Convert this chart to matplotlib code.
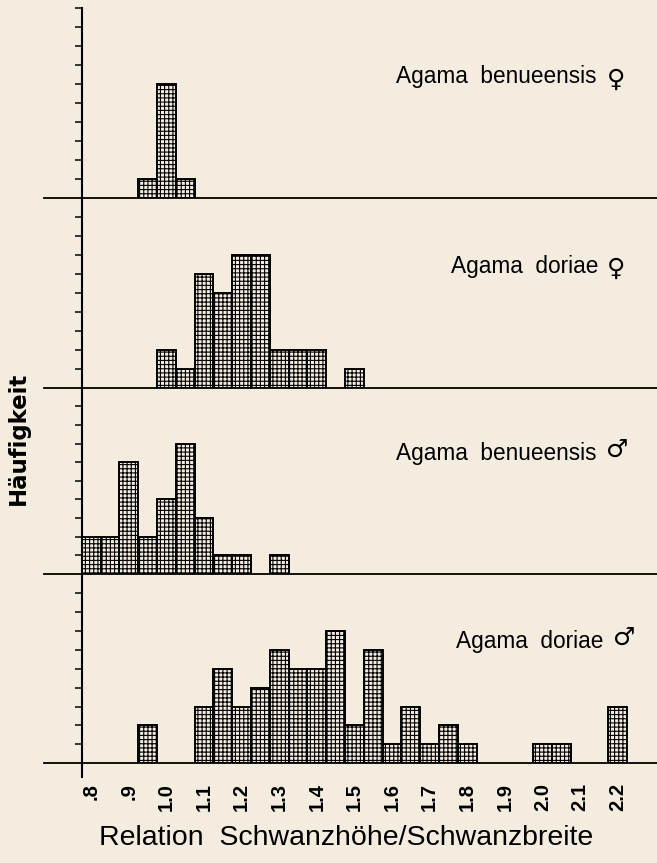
import matplotlib
matplotlib.use("Agg")
import matplotlib.pyplot as plt
from matplotlib.lines import Line2D

# ---- data (bin centres, bin width 0.05) ----
bin_width = 0.05

ben_f_x = [0.95, 1.00, 1.05]
ben_f_n = [1, 6, 1]

dor_f_x = [1.00, 1.05, 1.10, 1.15, 1.20, 1.25, 1.30, 1.35, 1.40, 1.50]
dor_f_n = [2, 1, 6, 5, 7, 7, 2, 2, 2, 1]

ben_m_x = [0.80, 0.85, 0.90, 0.95, 1.00, 1.05, 1.10, 1.15, 1.20, 1.30]
ben_m_n = [2, 2, 6, 2, 4, 7, 3, 1, 1, 1]

dor_m_x = [0.95, 1.10, 1.15, 1.20, 1.25, 1.30, 1.35, 1.40, 1.45, 1.50,
           1.55, 1.60, 1.65, 1.70, 1.75, 1.80, 2.00, 2.05, 2.20]
dor_m_n = [2, 3, 5, 3, 4, 6, 5, 5, 7, 2,
           6, 1, 3, 1, 2, 1, 1, 1, 3]

panel_names = ["Agama  benueensis", "Agama  doriae",
               "Agama  benueensis", "Agama  doriae"]
panel_sex = ["\u2640", "\u2640", "\u2642", "\u2642"]
x_ticks = [0.8, 0.9, 1.0, 1.1, 1.2, 1.3, 1.4, 1.5, 1.6, 1.7, 1.8, 1.9, 2.0, 2.1, 2.2]
x_ticklabels = [".8", ".9", "1.0", "1.1", "1.2", "1.3", "1.4", "1.5", "1.6",
                "1.7", "1.8", "1.9", "2.0", "2.1", "2.2"]
y_label = "Häufigkeit"
x_label = "Relation  Schwanzhöhe/Schwanzbreite"

panels = [(ben_f_x, ben_f_n), (dor_f_x, dor_f_n), (ben_m_x, ben_m_n), (dor_m_x, dor_m_n)]

# ---- layout ----
W, H = 657, 863
BG = "#f3ecdf"
FAM = ["Liberation Sans", "DejaVu Sans"]
plt.rcParams["font.family"] = FAM
plt.rcParams["hatch.linewidth"] = 0.8

fig = plt.figure(figsize=(W / 100, H / 100), dpi=100, facecolor=BG)

baselines = [198.3, 387.7, 574.0, 763.3]
tops = [8.3, 198.3, 387.7, 574.0]
x_left_px, x_right_px = 44, 657
xlim = (0.6745, 2.3048)
yaxis_x = 0.775
label_y = [77, 266, 453, 641]
name_right = [596, 598, 597, 603]
sex_left = [607, 607, 606, 613]

axes = []
for i, ((xs, ns), b, t) in enumerate(zip(panels, baselines, tops)):
    ax = fig.add_axes([x_left_px / W, 1 - b / H, (x_right_px - x_left_px) / W, (b - t) / H])
    ax.patch.set_alpha(0)
    ax.set_xlim(*xlim)
    ax.set_ylim(0, 10)
    ax.bar(xs, ns, width=bin_width, align="center", facecolor=BG,
           edgecolor="black", linewidth=1.4, hatch="++++", zorder=3)
    for s in ("top", "right"):
        ax.spines[s].set_visible(False)
    ax.spines["bottom"].set_linewidth(1.3)
    ax.spines["left"].set_position(("data", yaxis_x))
    ax.spines["left"].set_linewidth(1.5)
    ax.spines["left"].set_bounds(0, 10)
    yt = list(range(1, 11)) if i == 0 else list(range(1, 10))
    ax.set_yticks(yt)
    ax.set_yticklabels([])
    ax.tick_params(axis="y", direction="out", length=5, width=1.1, color="black")
    if i < 3:
        ax.set_xticks([])
    else:
        ax.set_xticks(x_ticks)
        ax.set_xticklabels(x_ticklabels, rotation=90, fontsize=14.5,
                           fontweight="bold", va="top")
        ax.tick_params(axis="x", length=0, pad=14)
        ax.add_line(Line2D([yaxis_x, yaxis_x], [0, -0.75], color="black",
                           linewidth=1.5, clip_on=False))
    fig.text(name_right[i] / W, 1 - label_y[i] / H, panel_names[i], ha="right",
             va="center", fontsize=16.3)
    sy = label_y[i] + (3 if panel_sex[i] == "\u2640" else -3)
    fig.text(sex_left[i] / W, 1 - sy / H, panel_sex[i], ha="left",
             va="center", fontsize=18, fontweight="bold", family=["DejaVu Sans"])
    axes.append(ax)

fig.text(18 / W, 1 - 438 / H, y_label, rotation=90, ha="center", va="center",
         fontsize=16.5, fontweight="bold", family=["DejaVu Sans"])
fig.text(346 / W, 1 - 838 / H, x_label, ha="center", va="center", fontsize=20.5)

fig.savefig("out.png", dpi=100, facecolor=BG)
